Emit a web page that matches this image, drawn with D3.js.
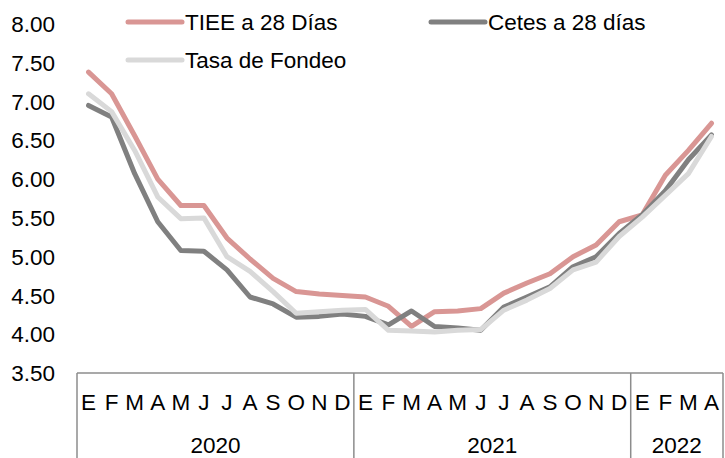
<!DOCTYPE html>
<html>
<head>
<meta charset="utf-8">
<script src="https://cdn.jsdelivr.net/npm/d3@7"></script>
<style>
  body { margin: 0; background: #fff; }
  text { font-family: "Liberation Sans", Arial, sans-serif; fill: #000; }
</style>
</head>
<body>
<div id="chart"></div>
<script>
// Months (E..D) for 2020, 2021 and Jan-Apr 2022
var months = ['E','F','M','A','M','J','J','A','S','O','N','D',
              'E','F','M','A','M','J','J','A','S','O','N','D',
              'E','F','M','A'];
var years = [
    { label: '2020', count: 12 },
    { label: '2021', count: 12 },
    { label: '2022', count: 4 }
];
var yTicks = [3.5, 4, 4.5, 5, 5.5, 6, 6.5, 7, 7.5, 8];

// Series values
var tiee = [7.38, 7.10, 6.56, 6.00, 5.66, 5.66, 5.24, 4.97, 4.72, 4.55, 4.52, 4.50,
            4.48, 4.36, 4.10, 4.29, 4.30, 4.33, 4.53, 4.66, 4.78, 5.00, 5.15, 5.45,
            5.54, 6.05, 6.37, 6.72];
var cetes = [6.95, 6.80, 6.07, 5.45, 5.08, 5.07, 4.83, 4.48, 4.39, 4.22, 4.23, 4.26,
             4.23, 4.12, 4.30, 4.10, 4.08, 4.05, 4.35, 4.48, 4.61, 4.87, 5.00, 5.30,
             5.54, 5.85, 6.25, 6.57];
var fondeo = [7.10, 6.87, 6.37, 5.77, 5.49, 5.50, 5.00, 4.81, 4.55, 4.27, 4.29, 4.31,
              4.32, 4.05, 4.04, 4.03, 4.05, 4.06, 4.31, 4.44, 4.59, 4.83, 4.93, 5.26,
              5.51, 5.79, 6.07, 6.55];

var width = 725, height = 458;
var plotLeft = 77, plotRight = 723, plotTop = 24, axisY = 373;
var fontSize = "22.5px";

var svg = d3.select("#chart").append("svg")
    .attr("width", width)
    .attr("height", height);

var x = d3.scaleBand()
    .domain(d3.range(months.length))
    .range([plotLeft, plotRight])
    .paddingInner(0)
    .paddingOuter(0);

var y = d3.scaleLinear()
    .domain([3.5, 8])
    .range([axisY, plotTop]);

// Y tick labels
svg.selectAll(".ytick")
    .data(yTicks)
    .enter().append("text")
    .attr("class", "ytick")
    .attr("x", 55)
    .attr("y", d => y(d))
    .attr("dy", "0.36em")
    .attr("text-anchor", "end")
    .style("font-size", fontSize)
    .text(d => d.toFixed(2));

// X axis line
svg.append("line")
    .attr("x1", plotLeft).attr("x2", plotRight)
    .attr("y1", axisY).attr("y2", axisY)
    .attr("stroke", "#8c8c8c")
    .attr("stroke-width", 1.5);

// Year separators
var bounds = [0];
years.forEach(function (yr) { bounds.push(bounds[bounds.length - 1] + yr.count); });
var sepX = d => d < months.length ? x(d) : plotRight;
svg.selectAll(".sep")
    .data(bounds)
    .enter().append("line")
    .attr("class", "sep")
    .attr("x1", sepX)
    .attr("x2", sepX)
    .attr("y1", axisY)
    .attr("y2", height)
    .attr("stroke", "#8c8c8c")
    .attr("stroke-width", 1.5);

// Month labels
svg.selectAll(".month")
    .data(months)
    .enter().append("text")
    .attr("class", "month")
    .attr("x", (d, i) => x(i) + x.bandwidth() / 2)
    .attr("y", 402)
    .attr("dy", "0.36em")
    .attr("text-anchor", "middle")
    .style("font-size", fontSize)
    .text(d => d);

// Year labels
svg.selectAll(".year")
    .data(years)
    .enter().append("text")
    .attr("class", "year")
    .attr("x", (d, i) => (sepX(bounds[i]) + sepX(bounds[i + 1])) / 2)
    .attr("y", 445)
    .attr("dy", "0.36em")
    .attr("text-anchor", "middle")
    .style("font-size", fontSize)
    .text(d => d.label);

// Lines
var series = [
    { name: "TIEE a 28 Días", values: tiee, color: "#d99694" },
    { name: "Cetes a 28 días", values: cetes, color: "#808080" },
    { name: "Tasa de Fondeo", values: fondeo, color: "#d9d9d9" }
];

var line = d3.line()
    .x((d, i) => x(i) + x.bandwidth() / 2)
    .y(d => y(d));

svg.selectAll(".series")
    .data(series)
    .enter().append("path")
    .attr("class", "series")
    .attr("d", d => line(d.values))
    .attr("fill", "none")
    .attr("stroke", d => d.color)
    .attr("stroke-width", 5)
    .attr("stroke-linejoin", "round")
    .attr("stroke-linecap", "round");

// Legend
var legendPos = [
    { x: 128, y: 22 },
    { x: 431, y: 22 },
    { x: 128, y: 60 }
];
var legend = svg.selectAll(".legend")
    .data(series)
    .enter().append("g")
    .attr("class", "legend")
    .attr("transform", (d, i) => `translate(${legendPos[i].x}, ${legendPos[i].y})`);

legend.append("line")
    .attr("x1", 0).attr("x2", 54)
    .attr("y1", 0).attr("y2", 0)
    .attr("stroke", d => d.color)
    .attr("stroke-width", 5)
    .attr("stroke-linecap", "round");

legend.append("text")
    .attr("x", 57)
    .attr("y", 0)
    .attr("dy", "0.36em")
    .style("font-size", fontSize)
    .text(d => d.name);
</script>
</body>
</html>
